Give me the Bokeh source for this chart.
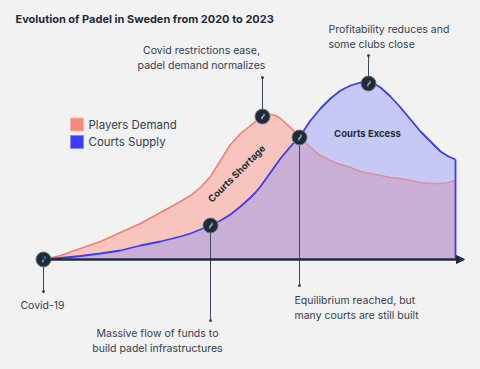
import numpy as np
from bokeh.plotting import figure
from bokeh.models import Range1d, Arrow, NormalHead
from bokeh.core.properties import value
from bokeh.embed import file_html
from bokeh.resources import INLINE

# ---- data (time index, level index) ----
t = [0, 17, 37, 57, 77, 97, 117, 137, 147, 157, 167, 177, 187, 197, 207, 212, 217, 222, 227, 232, 237, 247,
     257, 267, 277, 287, 297, 307, 317, 322, 327, 332, 337, 347, 357, 367, 377, 387, 397, 405, 412]
supply = [0, 1.5, 3.5, 6, 9, 14, 18, 23, 26, 30, 34, 39, 45, 53, 62, 67, 73, 80, 87, 94, 101, 113,
          124, 139, 151, 161, 169, 174, 177, 177.5, 177, 175, 172, 163, 152, 140, 128, 118, 108, 103, 100]
demand = [0, 4, 11, 18, 27, 36, 47, 58, 64, 72, 83, 99, 115, 126, 134, 138, 142, 144.5, 145, 144, 141, 132,
          122, 112, 104, 99, 95, 92, 88, 87, 86, 85, 84, 82, 81, 79, 77, 76, 76, 77, 79]

event_t = [0, 167, 219, 256, 325]
event_v = [0, 34, 143, 122, 176]
series_names = ["Players Demand", "Courts Supply"]
title_text = "Evolution of Padel in Sweden from 2020 to 2023"

DARK = "#1e2c3a"
TXT = "#34414f"
BG = "#f2f2f2"

t_a = np.array(t, dtype=float)
s_a = np.array(supply, dtype=float)
d_a = np.array(demand, dtype=float)

p = figure(width=472, height=361, x_range=Range1d(-43, 429), y_range=Range1d(-102, 259),
           output_backend="svg", toolbar_location=None, min_border=0,
           x_axis_location=None, y_axis_location=None)
p.grid.visible = False
p.outline_line_color = None
p.background_fill_color = BG
p.border_fill_color = BG

# areas
p.varea(x=t_a, y1=0, y2=d_a, fill_color="#f7c5be")
p.varea(x=t_a, y1=0, y2=s_a, fill_color="#c6c9f6")
p.varea(x=t_a, y1=0, y2=np.minimum(d_a, s_a), fill_color="#c9aed6")

# lines
p.line(t_a[t_a <= 257], d_a[t_a <= 257], line_color="#f47d6d", line_width=1.6, line_join="round")
p.line(t_a[t_a >= 257], d_a[t_a >= 257], line_color="#dc8ea6", line_width=1.6, line_join="round")
p.line(t_a, s_a, line_color="#3c3cf2", line_width=1.8, line_join="round")
p.segment(x0=[t_a[-1]], y0=[0], x1=[t_a[-1]], y1=[s_a[-1]], line_color="#3c3cf2", line_width=1.8)

# baseline arrow
p.add_layout(Arrow(end=NormalHead(size=8, fill_color=DARK, line_color=DARK),
                   x_start=0, y_start=0, x_end=421, y_end=0,
                   line_color=DARK, line_width=2.5))

# annotation leaders
lead_end = [-32, -61, 182, -26, 204]
p.segment(x0=event_t, y0=event_v, x1=event_t, y1=lead_end, line_color="#3c4856", line_width=1)
p.scatter(event_t, lead_end, size=3, fill_color="#3c4856", line_color=None)

# event markers
p.scatter(event_t, event_v, size=15, fill_color=DARK, line_color="#6b7884", line_width=1)
p.text(event_t, event_v, text=["~"] * 5, angle=1.1, text_color="#b9c3cc",
       text_font=value("DejaVu Sans"), text_font_size="10px", text_font_style="bold",
       text_align="center", text_baseline="middle")

# legend
p.scatter([33.5, 33.5], [135, 117.5], marker="square", size=13,
          fill_color=["#f98a7b", "#3c3cff"], line_color=["#fbb3a8", "#8a8aff"], line_width=1)
p.text([45, 45], [135, 117.5], text=series_names, text_color=TXT,
       text_font=value("Inter"), text_font_size="11.5px", text_baseline="middle")

# title
p.text([-28], [241], text=[title_text], text_color=DARK, text_font=value("Inter"),
       text_font_size="11px", text_font_style="bold", text_baseline="middle")

# annotation texts
def note(x, y, lines, align):
    p.text([x] * len(lines), [y - 15 * i for i in range(len(lines))], text=lines,
           text_color=TXT, text_font=value("Inter"), text_font_size="10.5px",
           text_align=align, text_baseline="middle")

note(285, 230, ["Profitability reduces and", "some clubs close"], "left")
note(158, 209, ["Covid restrictions ease,", "padel demand normalizes"], "center")
note(-1, -46, ["Covid-19"], "center")
note(114, -74, ["Massive flow of funds to", "build padel infrastructures"], "center")
note(251, -41, ["Equilibrium reached, but", "many courts are still built"], "left")

# region labels
p.text([193], [86], text=["Courts Shortage"], angle=np.pi / 4, text_color=DARK,
       text_font=value("Inter"), text_font_size="9.5px", text_font_style="bold",
       text_align="center", text_baseline="middle")
p.text([324], [126], text=["Courts Excess"], text_color=DARK,
       text_font=value("Inter"), text_font_size="9.5px", text_font_style="bold",
       text_align="center", text_baseline="middle")

template = """{% block preamble %}<style>html, body { background: #f2f2f2; }</style>{% endblock %}"""
try:
    html = file_html(p, INLINE, template=template)
except Exception:
    html = file_html(p, INLINE)
open("out.html", "w").write(html)
